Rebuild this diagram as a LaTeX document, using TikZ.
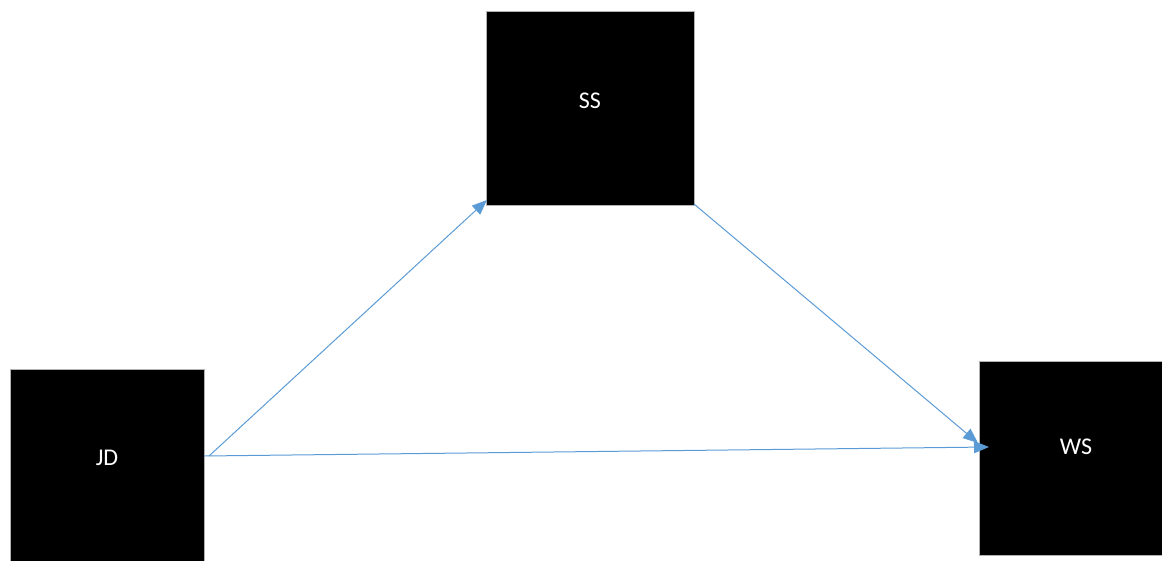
\documentclass[tikz,border=0pt]{standalone}
\usepackage{fontspec}
\setmainfont{Carlito}
\usetikzlibrary{arrows.meta}
\definecolor{linkblue}{HTML}{5B9BD5}
\tikzset{
  varbox/.style={draw=gray!60, line width=0.8pt, fill=black, inner sep=0pt},
  varname/.style={text=white, font=\fontsize{24}{28}\selectfont},
  link/.style={draw=linkblue, line width=1pt, -{Triangle[length=15pt,width=12pt]}}
}
\begin{document}
\begin{tikzpicture}[x=1pt,y=-1pt]
\useasboundingbox (0,0) rectangle (1162,560);
% the three variable boxes
\node[varbox, minimum width=194pt, minimum height=194pt] (jd) at (107,466) {};
\node[varbox, minimum width=208pt, minimum height=194pt] (ss) at (590,108.5) {};
\node[varbox, minimum width=190pt, minimum height=194pt] (ws) at (1074,458) {};
% their labels
\node[varname] (jdl) at ([yshift=8pt]jd.center) {JD};
\node[varname] (ssl) at ([yshift=8pt]ss.center) {SS};
\node[varname] (wsl) at ([yshift=11pt,xshift=2pt]ws.center) {WS};
% attachment points on the box edges
\coordinate (jdA) at (204,456);
\coordinate (jdB) at (209,456);
\coordinate (ssIn) at (487,200);
\coordinate (ssOut) at (694,204);
\coordinate (wsA) at (978,443);
\coordinate (wsB) at (989,447);
% paths between the variables
\draw[link] (jdB) -- (ssIn);
\draw[link] (ssOut) -- (wsA);
\draw[link] (jdA) -- (wsB);
\end{tikzpicture}
\end{document}
